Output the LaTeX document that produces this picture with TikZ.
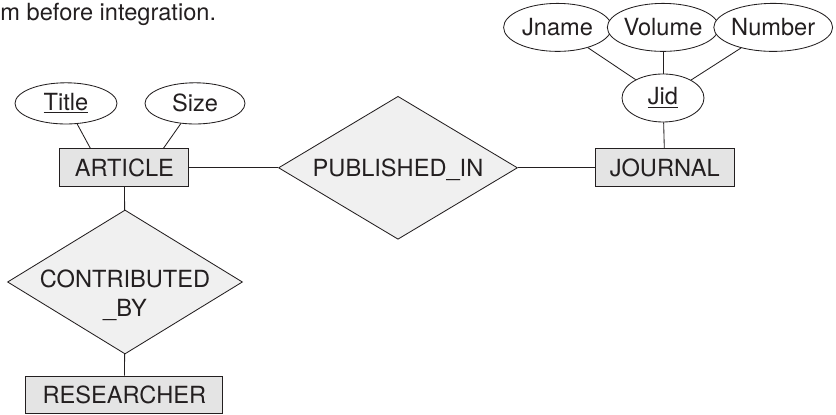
\documentclass[tikz,border=0pt]{standalone}
\usepackage{fontspec}
\setmainfont{TeX Gyre Heros}
\usepackage{tikz}
\usetikzlibrary{positioning,shapes.geometric}
\definecolor{inkgray}{RGB}{35,31,32}
\definecolor{boxgray}{RGB}{228,228,228}
\definecolor{relgray}{RGB}{240,240,240}

\begin{document}
\begin{tikzpicture}[line width=0.6pt,
  every node/.style={draw=inkgray,text=inkgray,inner sep=0pt,font=\fontsize{16.8}{21}\selectfont},
  entity/.style={rectangle,fill=boxgray,minimum height=0.95cm},
  attr/.style={ellipse,fill=white,minimum height=1.2cm},
  rel/.style={diamond,fill=relgray,align=center,aspect=1.65,inner xsep=-0.6cm,inner ysep=-0.4cm}]
  \useasboundingbox (0,0) rectangle (20.9,10.375);
  \node[draw=none,anchor=base west] (cap) at (0,9.86) {m before integration.};
  % entities
  \node[entity,minimum width=3.225cm] (art) at (3.11,6.18) {ARTICLE};
  \node[entity,minimum width=3.475cm] (jour) at (16.62,6.18) {JOURNAL};
  \node[entity,minimum width=4.925cm,minimum height=0.925cm] (res) at (3.11,0.51) {RESEARCHER};
  % relationships
  \node[rel,minimum width=5.975cm,minimum height=3.575cm] (pub) at (9.95,6.18) {\rule{0pt}{0.55cm}PUBLISHED\_IN};
  \node[rel,minimum width=5.875cm,minimum height=3.6cm] (contrib) at (3.125,3.325) {\rule{0pt}{1.1cm}CONTRIBUTED\\\_BY};
  % attributes
  \node[attr,minimum width=2.55cm,minimum height=1.03cm] (title) at (1.65,7.79) {\underline{Title}};
  \node[attr,minimum width=2.5cm,minimum height=1.03cm] (size) at (4.875,7.79) {Size};
  \node[attr,minimum width=2.05cm] (jid) at (16.575,7.925) {\underline{Jid}};
  \node[attr,minimum width=2.7cm] (jname) at (13.94,9.69) {Jname};
  \node[attr,minimum width=2.45cm] (vol) at (16.575,9.69) {Volume};
  \node[attr,minimum width=2.6cm] (num) at (19.33,9.69) {Number};
  % links
  \draw[inkgray] (title) -- ([xshift=-0.85cm]art.north);
  \draw[inkgray] (size) -- ([xshift=0.975cm]art.north);
  \draw[inkgray] (art) -- (pub);  \draw[inkgray] (pub) -- (jour);
  \draw[inkgray] (art) -- (contrib);  \draw[inkgray] (contrib) -- (res);
  \draw[inkgray] (jname) -- (jid);  \draw[inkgray] (vol) -- (jid);  \draw[inkgray] (num) -- (jid);
  \draw[inkgray] (jid) -- (jour);
\end{tikzpicture}
\end{document}
